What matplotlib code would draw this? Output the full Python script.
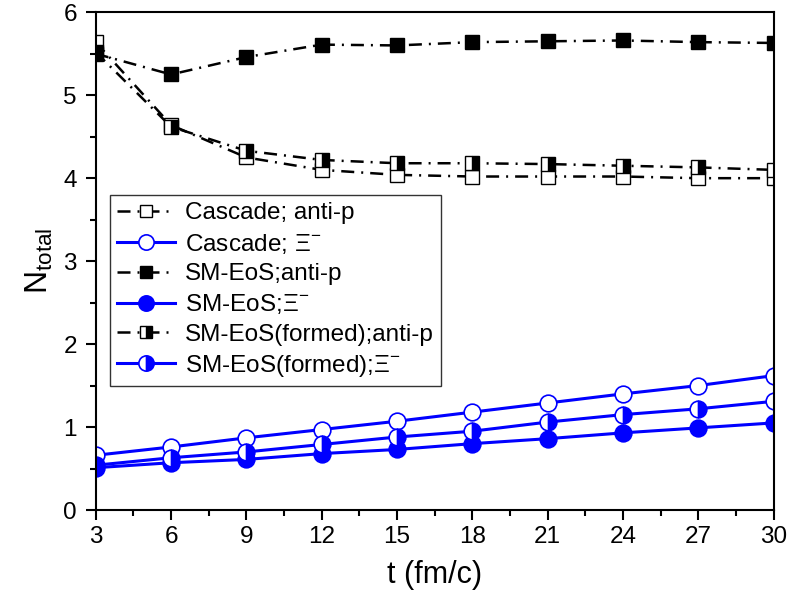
import matplotlib
matplotlib.use("Agg")
import matplotlib.pyplot as plt
from matplotlib.ticker import MultipleLocator

plt.rcParams['font.family'] = ['Liberation Sans', 'DejaVu Sans']
plt.rcParams['mathtext.fontset'] = 'custom'
plt.rcParams['mathtext.rm'] = 'Liberation Sans'
plt.rcParams['mathtext.it'] = 'Liberation Sans'

t = [3, 6, 9, 12, 15, 18, 21, 24, 27, 30]
cascade_pbar = [5.64, 4.64, 4.25, 4.10, 4.04, 4.02, 4.02, 4.02, 4.00, 4.00]
cascade_xi = [0.66, 0.76, 0.87, 0.97, 1.07, 1.18, 1.29, 1.40, 1.50, 1.62]
sm_pbar = [5.50, 5.25, 5.46, 5.61, 5.60, 5.64, 5.65, 5.66, 5.64, 5.63]
sm_xi = [0.51, 0.57, 0.61, 0.68, 0.73, 0.80, 0.86, 0.93, 0.99, 1.05]
formed_pbar = [5.52, 4.62, 4.33, 4.22, 4.18, 4.18, 4.17, 4.15, 4.13, 4.10]
formed_xi = [0.54, 0.63, 0.70, 0.79, 0.88, 0.95, 1.06, 1.15, 1.22, 1.31]

labels = ['Cascade; anti-p', r'Cascade; $\Xi^{-}$', 'SM-EoS;anti-p',
          r'SM-EoS;$\Xi^{-}$', 'SM-EoS(formed);anti-p', r'SM-EoS(formed);$\Xi^{-}$']

fig = plt.figure(figsize=(7.91, 6.13), dpi=100)
ax = fig.add_axes([0.121, 0.168, 0.857, 0.812])

dd = (0, (5.2, 2.8, 0.8, 2.8))
ms_s = 10.5
ms_c = 12
blw = 1.8
clw = 2.2
ax.plot(t, cascade_pbar, color='black', ls=dd, lw=blw, marker='s', ms=ms_s,
        mfc='white', mec='black', mew=1.0, label=labels[0])
ax.plot(t, cascade_xi, color='blue', ls='-', lw=clw, marker='o', ms=ms_c,
        mfc='white', mec='blue', mew=1.2, label=labels[1])
ax.plot(t, sm_pbar, color='black', ls=dd, lw=blw, marker='s', ms=ms_s,
        mfc='black', mec='black', mew=1.0, label=labels[2])
ax.plot(t, sm_xi, color='blue', ls='-', lw=clw, marker='o', ms=ms_c,
        mfc='blue', mec='blue', mew=1.2, label=labels[3])
ax.plot(t, formed_pbar, color='black', ls=dd, lw=blw, marker='s', ms=ms_s,
        fillstyle='right', mfc='black', mfcalt='white', mec='black', mew=1.0, label=labels[4])
ax.plot(t, formed_xi, color='blue', ls='-', lw=clw, marker='o', ms=ms_c,
        fillstyle='right', mfc='blue', mfcalt='white', mec='blue', mew=1.2, label=labels[5])

ax.set_xlim(3, 30)
ax.set_ylim(0, 6)
ax.xaxis.set_major_locator(MultipleLocator(3))
ax.xaxis.set_minor_locator(MultipleLocator(1.5))
ax.yaxis.set_major_locator(MultipleLocator(1))
ax.yaxis.set_minor_locator(MultipleLocator(0.5))
ax.tick_params(which='both', direction='out', top=False, right=False, labelsize=17.5, width=1.5)
ax.tick_params(which='major', length=7.5)
ax.tick_params(which='minor', length=4)
ax.tick_params(axis='y', which='major', pad=6)
ax.tick_params(axis='x', which='major', pad=4)
for s in ax.spines.values():
    s.set_linewidth(1.5)

ax.set_xlabel('t (fm/c)', fontsize=22, labelpad=9)
ax.set_ylabel(r'N$_{\rm total}$', fontsize=23, labelpad=6)

leg = ax.legend(loc='upper left', bbox_to_anchor=(0.0207, 0.6325), borderaxespad=0,
                fontsize=17.5, frameon=True, fancybox=False, edgecolor='black',
                handlelength=2.4, borderpad=0.3, labelspacing=0.3, handletextpad=0.4)
leg.get_frame().set_linewidth(1.0)
for h in leg.legend_handles:
    if h.get_marker() == 's':
        h.set_markersize(8)
    else:
        h.set_markersize(11)

fig.savefig('out.png', dpi=100)
